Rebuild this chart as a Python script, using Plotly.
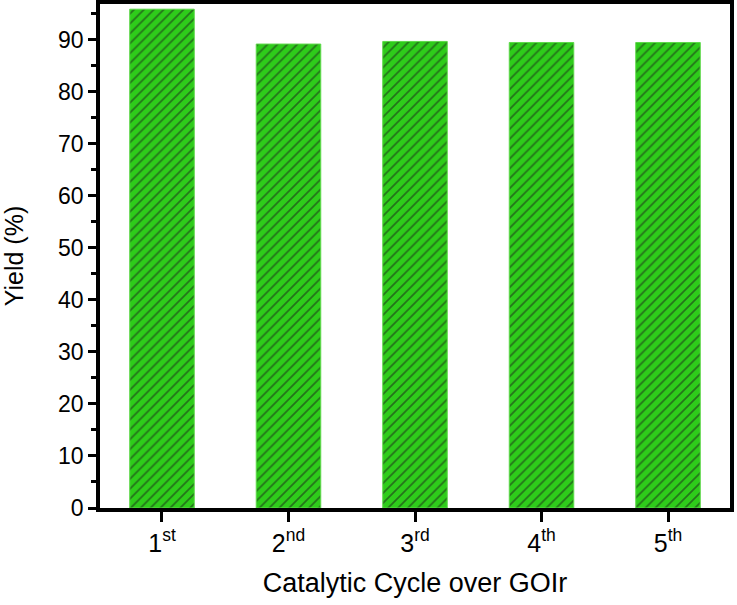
import plotly.graph_objects as go

cycles = ["1<sup>st</sup>", "2<sup>nd</sup>", "3<sup>rd</sup>", "4<sup>th</sup>", "5<sup>th</sup>"]
yields = [95.9, 89.2, 89.7, 89.5, 89.5]
yticks = [0, 10, 20, 30, 40, 50, 60, 70, 80, 90]

fig = go.Figure(go.Bar(
    x=cycles, y=yields, width=0.51,
    marker=dict(color="#2ecc1a", line=dict(color="#5ed84a", width=1),
                pattern=dict(shape="/", fgcolor="#1a1a1a", size=7, solidity=0.25)),
))

font = "Liberation Sans"
fig.update_layout(
    width=737, height=605, plot_bgcolor="white", paper_bgcolor="white",
    margin=dict(l=100, r=7, t=4, b=97),
    font=dict(family=font, size=24, color="black"),
    showlegend=False,
)
fig.update_xaxes(
    range=[-0.49, 4.49], showline=True, linewidth=3.5, linecolor="black", mirror=True,
    ticks="outside", ticklen=10, tickwidth=3, tickcolor="black",
    tickfont=dict(size=25), automargin=False,
    title=dict(text="Catalytic Cycle over GOIr", font=dict(size=27), standoff=18),
    showgrid=False,
)
fig.update_yaxes(
    range=[0, 96.9], showline=True, linewidth=3.5, linecolor="black", mirror=True,
    ticks="outside", ticklen=8, tickwidth=3, tickcolor="black",
    tickvals=yticks, tickfont=dict(size=23), automargin=False,
    minor=dict(ticks="outside", ticklen=5, tickwidth=3, tickcolor="black", dtick=5),
    title=dict(text="Yield (%)", font=dict(size=25), standoff=32),
    showgrid=False, zeroline=False,
)
fig.write_html("out.html", config={"displayModeBar": False},
               post_script="document.body.style.margin='0';document.body.style.overflow='hidden';")
